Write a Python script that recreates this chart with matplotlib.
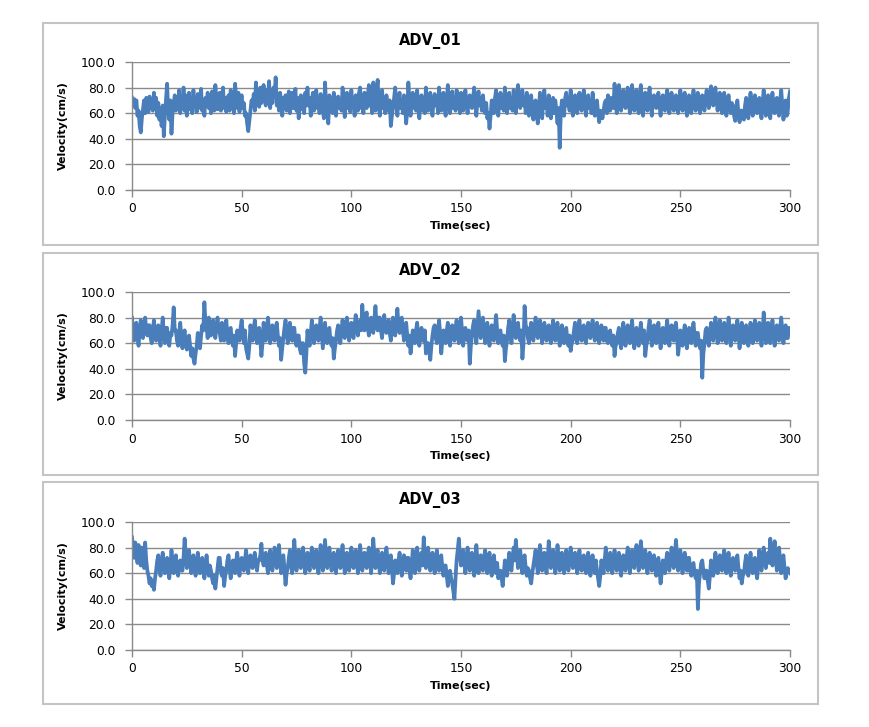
import numpy as np
import matplotlib
matplotlib.use("Agg")
import matplotlib.pyplot as plt
from matplotlib.patches import Rectangle

# velocity (cm/s), two values per second, 0..300 s
adv_01 = [
    72, 66, 71, 64, 70, 58, 62, 50, 45, 56, 63, 70, 60, 72, 67, 61, 73, 64, 70, 62,
    76, 66, 72, 58, 68, 55, 64, 50, 66, 42, 58, 70, 83, 62, 55, 70, 44, 60, 68, 74,
    62, 72, 66, 78, 60, 70, 64, 80, 62, 74, 58, 68, 76, 63, 72, 60, 78, 66, 70, 61,
    75, 64, 70, 79, 62, 68, 58, 72, 66, 76, 64, 70, 60, 77, 68, 62, 82, 70, 63, 74,
    76, 62, 70, 80, 64, 72, 61, 68, 74, 62, 78, 66, 70, 60, 83, 72, 64, 76, 61, 70,
    74, 64, 68, 58, 60, 52, 46, 54, 62, 70, 66, 75, 62, 84, 70, 78, 65, 80, 68, 74,
    82, 70, 66, 78, 72, 85, 64, 76, 68, 80, 74, 88, 66, 75, 62, 76, 70, 58, 72, 64,
    74, 62, 70, 77, 60, 68, 76, 64, 70, 79, 62, 72, 56, 68, 74, 63, 70, 60, 76, 66,
    80, 66, 72, 58, 70, 76, 62, 72, 78, 64, 70, 60, 75, 66, 62, 56, 84, 68, 60, 52,
    74, 64, 70, 60, 76, 68, 58, 72, 73, 64, 70, 62, 80, 68, 57, 70, 76, 64, 72, 61,
    78, 66, 70, 58, 74, 68, 62, 76, 80, 64, 70, 60, 76, 68, 64, 74, 82, 66, 70, 60,
    84, 72, 62, 76, 86, 66, 58, 70, 78, 64, 72, 60, 74, 66, 62, 70, 50, 58, 64, 72,
    80, 68, 58, 72, 76, 64, 70, 60, 74, 66, 52, 62, 84, 70, 58, 68, 76, 64, 72, 62,
    78, 66, 56, 70, 74, 62, 72, 60, 80, 68, 62, 74, 76, 64, 58, 70, 75, 66, 72, 60,
    80, 68, 62, 74, 76, 64, 58, 70, 82, 68, 60, 72, 77, 64, 70, 62, 78, 68, 72, 60,
    76, 66, 62, 72, 78, 68, 60, 70, 74, 66, 64, 72, 80, 68, 58, 70, 77, 66, 72, 62,
    74, 66, 60, 68, 56, 60, 48, 58, 70, 64, 60, 72, 78, 66, 58, 70, 76, 64, 72, 62,
    80, 68, 60, 72, 76, 64, 70, 62, 78, 68, 60, 74, 82, 70, 64, 76, 78, 66, 72, 60,
    76, 66, 58, 70, 74, 62, 55, 68, 70, 60, 52, 64, 76, 66, 56, 70, 78, 64, 70, 58,
    74, 64, 56, 68, 72, 60, 70, 62, 52, 64, 33, 60, 70, 64, 58, 72, 76, 66, 70, 62,
    78, 66, 58, 70, 74, 64, 60, 72, 76, 66, 62, 72, 78, 68, 58, 70, 74, 64, 70, 60,
    76, 66, 58, 68, 70, 60, 53, 62, 60, 56, 62, 68, 70, 60, 74, 66, 62, 72, 70, 64,
    83, 70, 60, 74, 82, 68, 62, 76, 78, 66, 64, 74, 80, 68, 60, 72, 82, 70, 62, 76,
    78, 66, 60, 74, 82, 68, 58, 70, 76, 66, 62, 74, 80, 68, 58, 72, 74, 66, 64, 72,
    76, 66, 58, 70, 74, 64, 62, 72, 78, 68, 60, 70, 76, 66, 62, 72, 74, 64, 60, 70,
    78, 68, 62, 72, 76, 66, 58, 70, 74, 64, 60, 70, 78, 68, 62, 72, 76, 66, 60, 70,
    74, 66, 62, 72, 78, 70, 64, 74, 81, 72, 66, 76, 80, 70, 62, 72, 76, 66, 60, 70,
    76, 66, 58, 70, 74, 64, 60, 68, 66, 58, 54, 64, 70, 60, 53, 62, 62, 56, 55, 66,
    72, 62, 56, 68, 76, 66, 58, 70, 74, 64, 60, 70, 72, 62, 56, 68, 78, 66, 58, 70,
    74, 64, 56, 68, 76, 66, 60, 70, 72, 62, 58, 70, 78, 66, 55, 62, 70, 58, 62, 72,
    77,
]

adv_02 = [
    80, 70, 62, 74, 76, 64, 58, 70, 78, 66, 64, 72, 80, 70, 66, 74, 74, 64, 60, 70,
    78, 68, 62, 72, 74, 64, 58, 70, 80, 68, 60, 72, 72, 62, 58, 68, 66, 74, 88, 70,
    70, 62, 58, 68, 76, 64, 56, 66, 70, 60, 55, 62, 66, 58, 50, 56, 48, 44, 52, 58,
    68, 60, 56, 66, 74, 70, 92, 76, 72, 64, 80, 70, 66, 74, 78, 68, 64, 72, 80, 70,
    68, 62, 76, 66, 62, 72, 78, 66, 60, 70, 72, 62, 58, 66, 50, 60, 70, 64, 62, 72,
    78, 68, 60, 70, 56, 52, 48, 58, 74, 66, 62, 72, 78, 68, 60, 70, 72, 62, 50, 60,
    76, 66, 62, 72, 80, 70, 60, 68, 74, 64, 62, 72, 76, 66, 58, 64, 47, 56, 64, 72,
    78, 68, 60, 70, 76, 66, 62, 72, 72, 62, 58, 66, 66, 56, 52, 60, 60, 44, 37, 52,
    70, 62, 58, 68, 78, 68, 60, 70, 74, 66, 62, 72, 80, 68, 56, 66, 76, 66, 60, 70,
    72, 62, 58, 64, 48, 56, 62, 70, 74, 64, 60, 70, 78, 68, 64, 74, 80, 70, 62, 72,
    76, 68, 64, 74, 82, 72, 66, 76, 78, 70, 90, 76, 70, 80, 84, 72, 66, 76, 80, 70,
    68, 78, 89, 74, 70, 80, 80, 70, 64, 74, 82, 72, 68, 76, 78, 68, 62, 72, 80, 70,
    66, 76, 87, 74, 68, 78, 80, 70, 62, 72, 76, 66, 58, 66, 52, 60, 70, 64, 60, 70,
    76, 66, 58, 68, 72, 62, 62, 70, 52, 60, 60, 54, 47, 58, 66, 72, 74, 64, 60, 70,
    78, 68, 52, 62, 70, 64, 60, 70, 76, 66, 58, 68, 74, 66, 62, 72, 78, 68, 60, 70,
    80, 70, 58, 68, 72, 64, 62, 70, 44, 58, 66, 74, 78, 68, 60, 72, 85, 74, 64, 72,
    80, 70, 60, 70, 76, 66, 58, 68, 74, 64, 62, 72, 82, 70, 60, 68, 70, 62, 58, 66,
    46, 56, 62, 72, 78, 68, 60, 70, 82, 72, 64, 74, 76, 66, 62, 70, 48, 60, 89, 74,
    72, 64, 60, 70, 76, 66, 62, 72, 80, 70, 64, 74, 78, 68, 60, 70, 76, 66, 62, 72,
    74, 64, 60, 70, 78, 68, 62, 72, 76, 66, 58, 68, 74, 64, 60, 70, 72, 62, 58, 66,
    54, 60, 62, 70, 76, 66, 60, 70, 78, 68, 62, 72, 74, 64, 60, 70, 76, 66, 64, 72,
    78, 68, 62, 72, 76, 66, 60, 70, 74, 64, 62, 72, 72, 62, 60, 68, 70, 62, 58, 66,
    50, 58, 60, 68, 72, 62, 56, 66, 76, 66, 58, 68, 74, 64, 60, 70, 78, 66, 56, 66,
    72, 62, 58, 68, 76, 66, 60, 70, 50, 58, 62, 72, 78, 68, 58, 68, 74, 64, 60, 70,
    76, 66, 56, 66, 72, 62, 60, 70, 78, 68, 58, 68, 74, 64, 62, 72, 76, 66, 51, 60,
    70, 62, 58, 68, 74, 64, 56, 66, 72, 62, 60, 70, 76, 66, 58, 68, 68, 60, 56, 62,
    33, 52, 60, 70, 72, 62, 58, 68, 76, 66, 62, 72, 80, 70, 60, 70, 78, 68, 62, 72,
    76, 66, 60, 70, 80, 70, 58, 68, 74, 64, 62, 72, 78, 68, 56, 66, 76, 66, 60, 70,
    74, 64, 58, 68, 76, 66, 60, 70, 78, 68, 62, 72, 76, 66, 58, 68, 84, 72, 60, 70,
    76, 66, 60, 70, 78, 68, 58, 68, 74, 64, 62, 72, 80, 70, 60, 70, 74, 64, 64, 72,
    70,
]

adv_03 = [
    88, 80, 72, 84, 76, 68, 82, 72, 66, 80, 74, 64, 84, 70, 62, 58, 52, 56, 50, 54,
    47, 56, 62, 70, 74, 64, 58, 68, 76, 66, 60, 70, 72, 62, 56, 66, 78, 68, 60, 70,
    74, 64, 58, 68, 70, 62, 62, 72, 87, 74, 64, 74, 78, 68, 60, 70, 74, 64, 58, 66,
    76, 66, 60, 70, 72, 62, 56, 66, 74, 64, 58, 66, 62, 56, 52, 58, 48, 56, 64, 72,
    72, 62, 58, 64, 50, 58, 62, 70, 74, 64, 56, 66, 70, 62, 60, 70, 76, 66, 58, 68,
    72, 64, 62, 70, 78, 68, 60, 70, 74, 66, 64, 72, 76, 68, 62, 70, 70, 74, 83, 70,
    66, 72, 76, 66, 60, 70, 78, 68, 62, 72, 80, 70, 64, 74, 82, 70, 60, 68, 74, 64,
    51, 60, 64, 72, 78, 68, 60, 70, 86, 72, 62, 72, 78, 68, 64, 74, 80, 70, 60, 70,
    76, 66, 62, 72, 80, 70, 64, 74, 78, 68, 60, 70, 82, 72, 62, 72, 86, 74, 64, 72,
    80, 70, 62, 72, 76, 66, 60, 70, 78, 68, 64, 74, 82, 70, 60, 70, 76, 66, 62, 72,
    80, 70, 64, 74, 78, 68, 60, 70, 82, 72, 62, 72, 76, 66, 64, 74, 80, 70, 60, 70,
    87, 74, 64, 74, 78, 68, 60, 70, 76, 66, 62, 72, 80, 70, 60, 70, 74, 64, 52, 60,
    70, 62, 60, 70, 76, 66, 58, 68, 74, 64, 62, 72, 72, 62, 56, 66, 78, 68, 60, 70,
    80, 70, 62, 72, 76, 66, 88, 74, 64, 72, 80, 70, 62, 72, 76, 66, 60, 70, 78, 68,
    62, 70, 74, 64, 58, 66, 66, 58, 50, 58, 62, 56, 52, 46, 40, 56, 70, 78, 87, 74,
    66, 72, 78, 68, 60, 70, 80, 70, 62, 72, 76, 66, 58, 68, 82, 70, 60, 70, 74, 64,
    62, 72, 78, 68, 60, 70, 76, 66, 58, 68, 74, 64, 60, 68, 56, 60, 62, 56, 50, 60,
    70, 62, 58, 68, 76, 66, 62, 72, 80, 70, 86, 74, 64, 72, 78, 68, 60, 70, 74, 64,
    58, 64, 62, 56, 52, 60, 66, 72, 78, 68, 60, 70, 82, 72, 62, 72, 76, 66, 60, 70,
    85, 74, 64, 72, 78, 68, 60, 70, 82, 72, 62, 72, 76, 66, 60, 70, 78, 68, 62, 72,
    80, 70, 64, 74, 76, 66, 60, 70, 78, 68, 62, 72, 74, 64, 60, 70, 76, 66, 58, 68,
    74, 64, 60, 70, 62, 56, 50, 58, 70, 64, 60, 70, 80, 70, 62, 72, 76, 66, 60, 70,
    78, 68, 62, 72, 76, 66, 58, 68, 74, 64, 62, 72, 80, 70, 60, 70, 78, 68, 64, 74,
    82, 72, 62, 72, 85, 74, 64, 74, 78, 68, 60, 70, 76, 66, 62, 72, 74, 64, 58, 68,
    72, 62, 52, 60, 70, 64, 60, 70, 76, 66, 62, 72, 80, 70, 64, 74, 86, 74, 62, 72,
    78, 68, 60, 70, 76, 66, 62, 72, 72, 62, 58, 66, 68, 60, 56, 62, 32, 52, 60, 68,
    70, 62, 56, 62, 62, 54, 48, 58, 70, 64, 58, 68, 76, 66, 60, 70, 74, 64, 62, 72,
    78, 68, 60, 70, 76, 66, 58, 68, 72, 64, 62, 70, 74, 64, 56, 62, 52, 58, 60, 68,
    74, 64, 58, 68, 76, 66, 60, 70, 72, 62, 56, 66, 78, 68, 62, 72, 80, 70, 64, 74,
    76, 68, 87, 74, 66, 76, 85, 72, 62, 72, 80, 70, 60, 68, 74, 64, 56, 62, 64, 62,
    60,
]

titles = ["ADV_01", "ADV_02", "ADV_03"]
series = [adv_01, adv_02, adv_03]
x_ticks = [0, 50, 100, 150, 200, 250, 300]
y_ticks = [0, 20, 40, 60, 80, 100]

W, H = 870, 727
LINE_BLUE = "#4a7ebb"
GRID = "#8a8a8a"


def box(x0, y0, x1, y1):
    # pixel box (top-left origin) -> figure fraction rect
    return [x0 / W, 1 - y1 / H, (x1 - x0) / W, (y1 - y0) / H]


fig = plt.figure(figsize=(W / 100, H / 100), dpi=100)
fig.patch.set_facecolor("white")

frame_tops = [23, 253, 482]
plot_tops = [62, 292, 522]

for k in range(3):
    ft = frame_tops[k]
    fx, fy, fw, fh = box(43, ft, 818, ft + 222)
    fig.patches.append(Rectangle((fx, fy), fw, fh, transform=fig.transFigure,
                                 fill=False, edgecolor="#c4c4c4", lw=1.5))

    values = series[k]
    t = np.arange(len(values)) * 0.5

    pt = plot_tops[k]
    ax = fig.add_axes(box(132, pt, 790, pt + 128))
    ax.plot(t, values, color=LINE_BLUE, lw=2.7, solid_joinstyle="round")

    ax.set_xlim(0, 300)
    ax.set_ylim(0, 100)
    ax.set_xticks(x_ticks)
    ax.set_yticks(y_ticks)
    ax.set_yticklabels(["%.1f" % v for v in y_ticks])
    ax.yaxis.grid(True, color=GRID, lw=1.0)
    ax.set_axisbelow(True)

    for s in ["top", "right"]:
        ax.spines[s].set_visible(False)
    for s in ["left", "bottom"]:
        ax.spines[s].set_color(GRID)
        ax.spines[s].set_linewidth(1.0)
    ax.tick_params(axis="both", colors=GRID, length=5, width=1.0, direction="out",
                   labelcolor="black", labelsize=8.8)
    ax.tick_params(axis="y", pad=7)
    ax.tick_params(axis="x", pad=4)

    ax.set_xlabel("Time(sec)", fontsize=8, fontweight="bold", labelpad=4)
    ax.set_ylabel("Velocity(cm/s)", fontsize=8, fontweight="bold", labelpad=9,
                  family="Liberation Sans Narrow")

    fig.text(430 / W, 1 - (ft + 18) / H, titles[k], ha="center", va="center",
             fontsize=10.5, fontweight="bold")

fig.savefig("out.png", dpi=100, facecolor="white")
